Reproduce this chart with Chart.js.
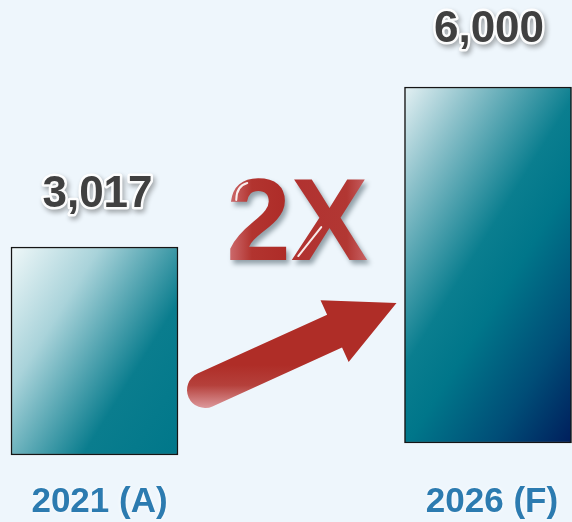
<!DOCTYPE html>
<html>
<head>
<meta charset="utf-8">
<script src="https://cdn.jsdelivr.net/npm/chart.js@4"></script>
<style>
  html, body { margin: 0; padding: 0; background: #EEF6FC; }
  #wrap { width: 572px; height: 522px; }
</style>
</head>
<body>
<div id="wrap"><canvas id="growthChart" width="572" height="522"></canvas></div>
<script>
// ================= DATA =================
const categories = ['2021 (A)', '2026 (F)'];
const actualValues = [3017, null];
const forecastValues = [null, 6000];
const valueLabels = ['3,017', '6,000'];
const growthLabel = '2X';

// ================= STYLE =================
const FONT = '"Liberation Sans", Arial, sans-serif';
const BAR_W = 167;
const ANGLE = 32 * Math.PI / 180;

const actualStops = [
    [0, '#F0F8F9'], [0.3, '#A9D3DA'], [0.68, '#0A7D8E'], [1, '#00778A']
];
const forecastStops = [
    [0, '#E4F0F3'], [0.18, '#8CC1CA'], [0.45, '#0A7E8F'],
    [0.58, '#00768A'], [0.8, '#004D77'], [1, '#001E5C']
];

// ================= HELPERS =================
function barGradient(ctx, stops) {
    const chart = ctx.chart;
    if (!chart.chartArea || ctx.type !== 'data') return stops[stops.length - 1][1];
    const ds = ctx.dataset;
    const v = ds.data[ctx.dataIndex];
    if (v == null) return 'transparent';
    const ys = chart.scales[ds.yAxisID];
    const left = chart.scales.x.getPixelForValue(ctx.dataIndex) - BAR_W / 2;
    const top = ys.getPixelForValue(v);
    const h = ys.getPixelForValue(0) - top;
    const len = BAR_W * Math.cos(ANGLE) + h * Math.sin(ANGLE);
    const g = chart.ctx.createLinearGradient(
        left, top, left + len * Math.cos(ANGLE), top + len * Math.sin(ANGLE));
    stops.forEach(([o, c]) => g.addColorStop(o, c));
    return g;
}

function valueText(c, text, x, y) {
    c.save();
    c.font = 'bold 44px ' + FONT;
    c.textAlign = 'center';
    c.textBaseline = 'alphabetic';
    c.lineJoin = 'round';
    c.shadowColor = 'rgba(0,0,0,0.35)';
    c.shadowBlur = 5;
    c.shadowOffsetX = 2;
    c.shadowOffsetY = 3;
    c.strokeStyle = 'rgba(255,255,255,0.95)';
    c.lineWidth = 5;
    c.strokeText(text, x, y);
    c.shadowColor = 'transparent';
    c.fillStyle = '#404040';
    c.fillText(text, x, y);
    c.restore();
}

function categoryText(c, text, x, y) {
    c.save();
    c.font = 'bold 35px ' + FONT;
    c.textAlign = 'center';
    c.textBaseline = 'alphabetic';
    c.shadowColor = 'rgba(255,255,255,1)';
    c.shadowBlur = 4;
    c.fillStyle = '#2C7BB0';
    c.fillText(text, x, y);
    c.restore();
}

function drawArrow(c, x0, y0, x1, y1) {
    const dx = x1 - x0, dy = y1 - y0;
    const L = Math.hypot(dx, dy);
    const shaft = 18, head = 34, headLen = 68;
    c.save();
    c.translate(x0, y0);
    c.rotate(Math.atan2(dy, dx));
    c.beginPath();
    c.moveTo(0, -shaft);
    c.lineTo(L - headLen, -shaft);
    c.lineTo(L - headLen, -head);
    c.lineTo(L, 0);
    c.lineTo(L - headLen, head);
    c.lineTo(L - headLen, shaft);
    c.lineTo(0, shaft);
    c.arc(0, 0, shaft, Math.PI / 2, Math.PI * 1.5);
    c.closePath();
    c.restore();
    const g = c.createLinearGradient(0, y0 - 25, 0, y0 + 20);
    g.addColorStop(0, '#AF2D27');
    g.addColorStop(0.45, '#B5403B');
    g.addColorStop(1, '#E0A0A4');
    c.fillStyle = g;
    c.fill();
}

function drawGrowth(c, x, y) {
    c.save();
    c.font = 'bold 116px ' + FONT;
    c.textAlign = 'center';
    c.textBaseline = 'alphabetic';
    const w = c.measureText(growthLabel).width;
    const g = c.createLinearGradient(x - w / 2, 0, x + w / 2, 0);
    g.addColorStop(0, '#D07276');
    g.addColorStop(0.18, '#B2342F');
    g.addColorStop(0.42, '#AE2C28');
    g.addColorStop(0.5, '#B13230');
    g.addColorStop(0.85, '#B23733');
    g.addColorStop(1, '#C96466');
    c.shadowColor = 'rgba(70,90,100,0.55)';
    c.shadowBlur = 5;
    c.shadowOffsetX = 3;
    c.shadowOffsetY = 4;
    c.fillStyle = g;
    c.fillText(growthLabel, x, y);
    c.restore();

    // glossy highlights
    c.save();
    c.strokeStyle = 'rgba(255,255,255,0.9)';
    c.lineWidth = 2;
    c.lineCap = 'round';
    c.beginPath();
    c.moveTo(x - 61, y - 60);
    c.quadraticCurveTo(x - 61, y - 74, x - 50, y - 77);
    c.stroke();
    c.beginPath();
    c.moveTo(x + 24, y - 33);
    c.lineTo(x + 1, y - 4);
    c.stroke();
    c.restore();
}

// ================= PLUGINS =================
const backgroundPlugin = {
    id: 'background',
    beforeDraw(chart) {
        const c = chart.ctx;
        c.save();
        c.fillStyle = '#EEF6FC';
        c.fillRect(0, 0, chart.width, chart.height);
        c.restore();
    }
};

const decorPlugin = {
    id: 'decor',
    afterDatasetsDraw(chart) {
        const c = chart.ctx;
        const bar1 = chart.getDatasetMeta(0).data[0];
        const bar2 = chart.getDatasetMeta(1).data[1];
        if (!bar1 || !bar2) return;

        const b1Right = bar1.x + bar1.width / 2;
        const b2Left = bar2.x - bar2.width / 2;

        // arrow between the bars
        drawArrow(c, b1Right + 27, bar1.base - 65, b2Left - 8, bar2.y + 216);

        // growth multiplier
        drawGrowth(c, (b1Right + b2Left) / 2 + 6, bar1.y + 13);

        // values above bars
        valueText(c, valueLabels[0], bar1.x + 3, bar1.y - 40);
        valueText(c, valueLabels[1], bar2.x + 1, bar2.y - 45);

        // category labels
        categoryText(c, categories[0], bar1.x + 5, 512);
        categoryText(c, categories[1], bar2.x + 4, 512);
    }
};

// ================= CHART =================
new Chart(document.getElementById('growthChart'), {
    type: 'bar',
    data: {
        labels: categories,
        datasets: [
            {
                label: 'Actual',
                data: actualValues,
                yAxisID: 'yA',
                backgroundColor: (ctx) => barGradient(ctx, actualStops),
                borderColor: '#151515',
                borderWidth: 1.5,
                borderSkipped: false,
                barThickness: BAR_W,
                grouped: false,
                clip: false
            },
            {
                label: 'Forecast',
                data: forecastValues,
                yAxisID: 'yB',
                backgroundColor: (ctx) => barGradient(ctx, forecastStops),
                borderColor: '#151515',
                borderWidth: 1.5,
                borderSkipped: false,
                barThickness: BAR_W,
                grouped: false,
                clip: false
            }
        ]
    },
    plugins: [backgroundPlugin, decorPlugin],
    options: {
        responsive: false,
        animation: false,
        layout: { padding: { top: 87, bottom: 67, left: 94.5, right: 84 } },
        plugins: {
            legend: { display: false },
            tooltip: { enabled: false }
        },
        scales: {
            x: { type: 'category', offset: false, display: false },
            yA: { display: false, min: 0, max: 5338 },
            yB: { display: false, min: -202, max: 6000 }
        }
    }
});
</script>
</body>
</html>
